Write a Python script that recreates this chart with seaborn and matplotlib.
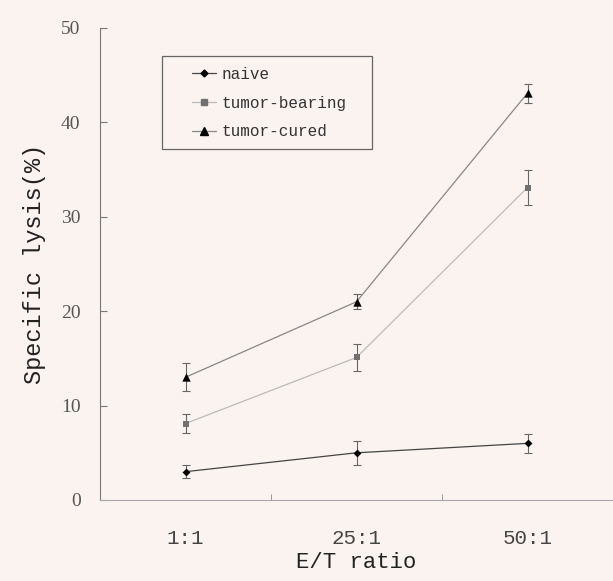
import numpy as np
import pandas as pd
import matplotlib.pyplot as plt
import matplotlib.patches as mpatches
from matplotlib.lines import Line2D
import seaborn as sns

# data
ratios = ['1:1', '25:1', '50:1']
groups = ['naive', 'tumor-bearing', 'tumor-cured']
naive = [3.0, 5.0, 6.0]
naive_err = [0.7, 1.3, 1.0]
bearing = [8.1, 15.1, 33.1]
bearing_err = [1.0, 1.45, 1.85]
cured = [13.0, 21.0, 43.1]
cured_err = [1.5, 0.8, 1.0]

bg = '#FBF3F0'
styles = {
    'naive': dict(line='#444444', mk='D', mc='black', ms=4),
    'tumor-bearing': dict(line='#bbbbbb', mk='s', mc='#707070', ms=5),
    'tumor-cured': dict(line='#888888', mk='^', mc='black', ms=6),
}

df = pd.DataFrame({
    'ratio': ratios * 3,
    'group': np.repeat(groups, 3),
    'lysis': naive + bearing + cured,
    'err': naive_err + bearing_err + cured_err,
})

sns.set_style('ticks')
plt.rcParams['font.family'] = ['Liberation Mono', 'DejaVu Sans']

fig = plt.figure(figsize=(6.13, 5.81), dpi=100, facecolor=bg)
ax = fig.add_axes([100 / 613, 81 / 581, 513 / 613, 472 / 581])
ax.set_facecolor(bg)

handles = []
for g in groups:
    st = styles[g]
    sub = df[df['group'] == g]
    sns.lineplot(data=sub, x='ratio', y='lysis', ax=ax, color=st['line'],
                 lw=0.9, marker=None, legend=False, sort=False)
    ax.errorbar(np.arange(len(ratios)), sub['lysis'], yerr=sub['err'],
                fmt='none', ecolor='#666666', elinewidth=0.8, capsize=3,
                capthick=0.8, zorder=3)
    ax.scatter(np.arange(len(ratios)), sub['lysis'], marker=st['mk'],
               color=st['mc'], s=st['ms'] ** 2, zorder=4, linewidths=0)
    handles.append(Line2D([0], [0], color=st['line'], lw=0.9, marker=st['mk'],
                          markerfacecolor=st['mc'], markeredgecolor=st['mc'],
                          markersize=st['ms'] - 0.5))

ax.set_xlim(-0.5, 2.5)
ax.set_ylim(0, 50)
ax.set_yticks(range(0, 51, 10))
ax.set_yticklabels([str(v) for v in range(0, 51, 10)],
                   family='Liberation Serif', fontsize=14, color='#555555')
ax.set_xticks(range(len(ratios)))
ax.set_xticklabels(ratios, fontsize=15, color='#444444')
ax.set_xticks([0.5, 1.5], minor=True)
ax.tick_params(axis='x', which='major', length=0, pad=21)
ax.tick_params(axis='x', which='minor', direction='in', length=4, color='#888888')
ax.tick_params(axis='y', direction='in', length=5, color='#777777', pad=14)

ax.set_xlabel('E/T ratio', fontsize=16, color='#222222', labelpad=3)
ax.set_ylabel('Specific lysis(%)', fontsize=17, color='#222222', labelpad=11)

for s in ['top', 'right']:
    ax.spines[s].set_visible(False)
ax.spines['left'].set_color('#777777')
ax.spines['bottom'].set_color('#aaaaaa')

# legend box
ax.add_patch(mpatches.Rectangle((62 / 513, 351 / 472), 210 / 513, 93 / 472,
                                transform=ax.transAxes, fill=False,
                                edgecolor='#666666', lw=0.9, zorder=5))
ax.legend(handles, groups, loc='upper left', bbox_to_anchor=(92 / 513, 433 / 472),
          frameon=False, fontsize=11.5, handlelength=1.5, handletextpad=0.35,
          labelspacing=0.85, borderpad=0, borderaxespad=0, labelcolor='#333333')

fig.savefig('out.png', dpi=100, facecolor=bg)
